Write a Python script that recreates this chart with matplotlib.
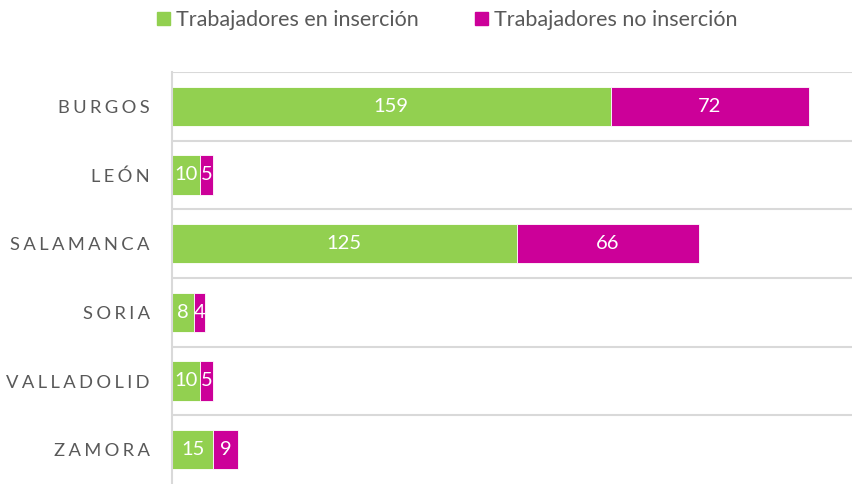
import matplotlib
matplotlib.use('Agg')
import matplotlib.pyplot as plt
from matplotlib.patches import Patch

provincias = ['BURGOS', 'LEÓN', 'SALAMANCA', 'SORIA', 'VALLADOLID', 'ZAMORA']
en_insercion = [159, 10, 125, 8, 10, 15]
no_insercion = [72, 5, 66, 4, 5, 9]

VERDE = '#92D050'
MAGENTA = '#CC0099'
GRIS = '#595959'

plt.rcParams['font.family'] = ['Lato', 'DejaVu Sans']

fig = plt.figure(figsize=(8.52, 4.84), dpi=100)
ax = fig.add_axes([172 / 852, 0.0, 680 / 852, 412 / 484])

y = list(range(len(provincias)))
b1 = ax.barh(y, en_insercion, height=0.57, color=VERDE, edgecolor='white', linewidth=0.6)
b2 = ax.barh(y, no_insercion, left=en_insercion, height=0.57, color=MAGENTA,
             edgecolor='white', linewidth=0.6)

for bars in (b1, b2):
    for rect in bars:
        w = rect.get_width()
        cx = rect.get_x() + w / 2
        cy = rect.get_y() + rect.get_height() / 2
        ax.text(cx, cy, f'{int(w)}', ha='center', va='center', color='white', fontsize=14.5)

ax.set_xlim(0, 246.5)
ax.set_ylim(len(provincias) - 0.5, -0.5)

# lineas separadoras entre categorias
for k in range(len(provincias)):
    ax.axhline(k - 0.5, color='#D9D9D9', linewidth=1.5, zorder=0)

# etiquetas espaciadas como en el original
ax.set_yticks(y)
ax.set_yticklabels(['\u2009\u200a'.join(p) for p in provincias], color=GRIS, fontsize=13.2)
ax.tick_params(axis='y', length=0, pad=16)
ax.set_xticks([])
for s in ['top', 'right', 'bottom']:
    ax.spines[s].set_visible(False)
ax.spines['left'].set_color('#D9D9D9')
ax.spines['left'].set_linewidth(1.5)

handles = [Patch(color=VERDE, label='Trabajadores en inserción'),
           Patch(color=MAGENTA, label='Trabajadores no inserción')]
fig.legend(handles=handles, loc='center', bbox_to_anchor=(0.525, 1 - 20 / 484), ncol=2,
           frameon=False, fontsize=15.5, labelcolor=GRIS, handlelength=0.6, handleheight=0.6,
           handletextpad=0.3, columnspacing=2.6)

fig.savefig('out.png', dpi=100)
